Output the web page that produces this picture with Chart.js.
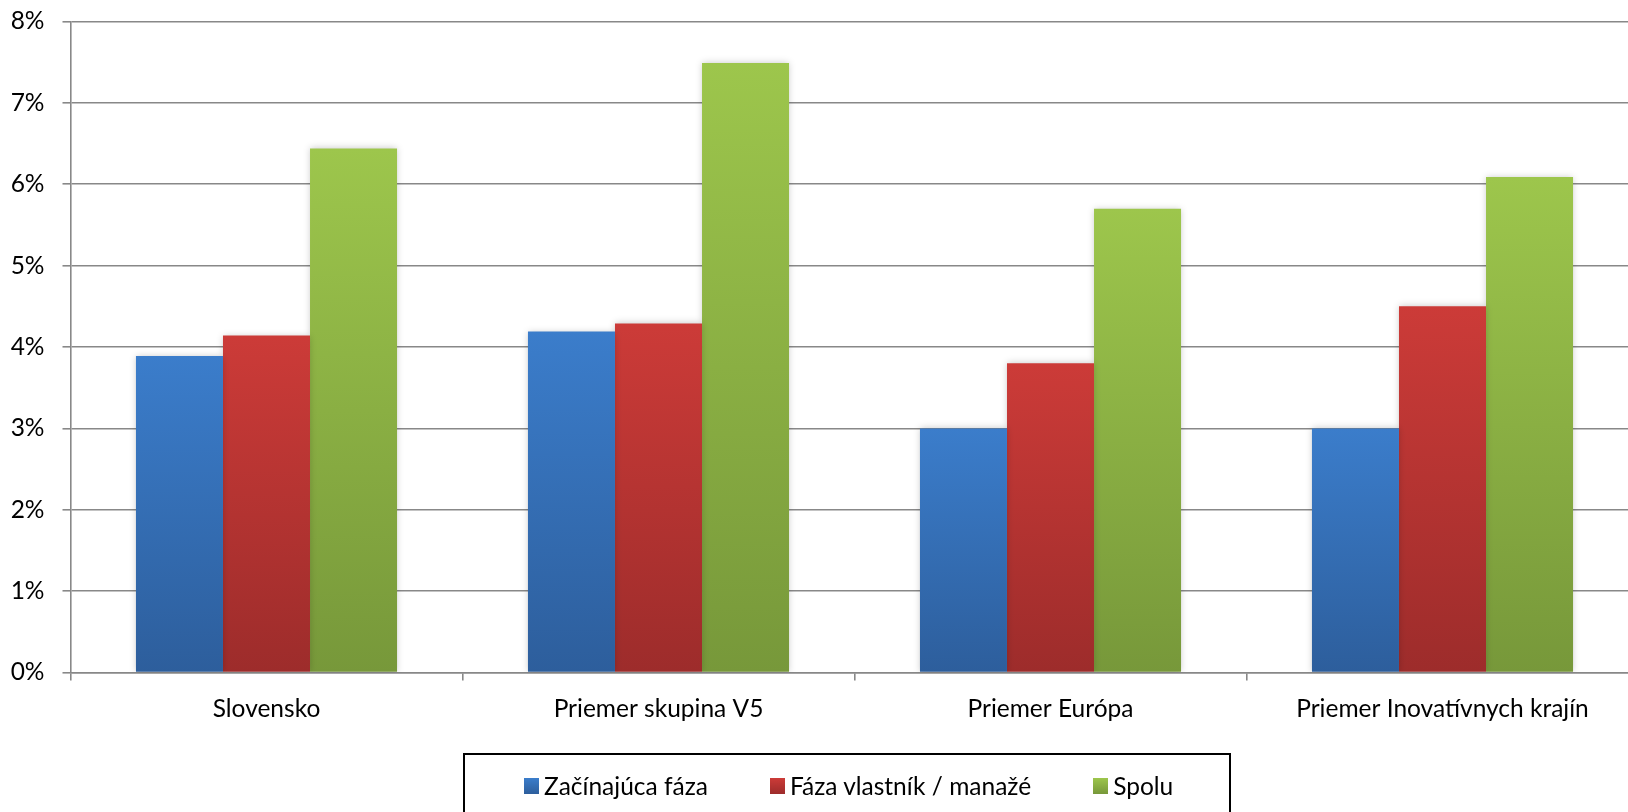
<!DOCTYPE html>
<html>
<head>
<meta charset="utf-8">
<script src="https://cdn.jsdelivr.net/npm/chart.js@4"></script>
<style>
  body { margin: 0; background: #fff; overflow: hidden; }
  #wrap { position: relative; width: 1628px; height: 812px; overflow: hidden; }
  #legenda {
    position: absolute; left: 463px; top: 753px; width: 768px; height: 100px;
    border: 2px solid #000; box-sizing: border-box;
    display: flex; align-items: flex-start; padding: 16px 0 0 59px;
    font-family: Lato, "Open Sans", sans-serif; font-size: 24.5px; color: #000;
  }
  .polozka { display: flex; align-items: center; margin-right: 62px; white-space: nowrap; }
  .stvorec { width: 15px; height: 16px; margin-right: 5px; flex: none; }
</style>
</head>
<body>
<div id="wrap">
  <canvas id="graf" width="1660" height="812"></canvas>
  <div id="legenda"></div>
</div>
<script>
'use strict'

const kategorie = ['Slovensko', 'Priemer skupina V5', 'Priemer Európa', 'Priemer Inovatívnych krajín']
const serie = ['Začínajúca fáza', 'Fáza vlastník / manažé', 'Spolu']
const zacinajuca = [3.89, 4.19, 3.0, 3.0]
const vlastnik = [4.14, 4.29, 3.80, 4.50]
const spolu = [6.44, 7.49, 5.70, 6.09]
const osY = [0, 1, 2, 3, 4, 5, 6, 7, 8]

// farby: hore / dole
const farby = [
  ['#3b7dcb', '#2d5e9c'],
  ['#cc3b38', '#9d2c2b'],
  ['#9dc64c', '#77983a']
]

const font = "Lato, 'Open Sans', sans-serif"

const prechod = function (i) {
  return function (ctx) {
    const chart = ctx.chart
    if (!chart.chartArea || ctx.raw === undefined) return farby[i][0]
    const y = chart.scales.y
    const hore = y.getPixelForValue(ctx.raw)
    const dole = y.getPixelForValue(0)
    const g = chart.ctx.createLinearGradient(0, hore, 0, dole)
    g.addColorStop(0, farby[i][0])
    g.addColorStop(1, farby[i][1])
    return g
  }
}

const tien = {
  id: 'tien',
  beforeDatasetsDraw(chart) {
    const c = chart.ctx
    c.save()
    c.shadowColor = 'rgba(0,0,0,0.22)'
    c.shadowBlur = 7
  },
  afterDatasetsDraw(chart) {
    chart.ctx.restore()
  }
}

const hodnoty = [zacinajuca, vlastnik, spolu]

const ctx = document.getElementById('graf')

new Chart(ctx, {
  type: 'bar',
  data: {
    labels: kategorie,
    datasets: serie.map((s, i) => ({
      label: s,
      data: hodnoty[i],
      backgroundColor: prechod(i),
      borderWidth: 0,
      categoryPercentage: 0.666,
      barPercentage: 1.0
    }))
  },
  plugins: [tien],
  options: {
    responsive: false,
    devicePixelRatio: 1,
    animation: false,
    layout: { padding: { top: 21.5, right: 21.5, bottom: 87.5, left: 0 } },
    plugins: {
      legend: { display: false },
      tooltip: { enabled: false }
    },
    scales: {
      x: {
        grid: { display: true, offset: true, drawOnChartArea: false, color: '#888', lineWidth: 1.6, tickLength: 8 },
        border: { color: '#888', width: 1.6 },
        ticks: { color: '#000', padding: 14, font: { family: font, size: 24.5 } },
        afterFit(s) { s.height = 52 }
      },
      y: {
        min: 0,
        max: 8,
        afterBuildTicks(s) { s.ticks = osY.map(v => ({ value: v })) },
        grid: { color: '#888', lineWidth: 1.6, tickLength: 8 },
        border: { color: '#888', width: 1.6 },
        ticks: { color: '#000', padding: 18, font: { family: font, size: 24.5 }, callback: v => v + '%' },
        afterFit(s) {
          s.width = 70.5
          s.paddingTop = 0
          s.paddingBottom = 0
        }
      }
    }
  }
})

// legenda
const leg = document.getElementById('legenda')
serie.forEach((s, i) => {
  const p = document.createElement('div')
  p.classList.add('polozka')
  const st = document.createElement('div')
  st.classList.add('stvorec')
  st.style.background = `linear-gradient(${farby[i][0]}, ${farby[i][1]})`
  const t = document.createElement('span')
  t.textContent = s
  p.appendChild(st)
  p.appendChild(t)
  leg.appendChild(p)
})
</script>
</body>
</html>
